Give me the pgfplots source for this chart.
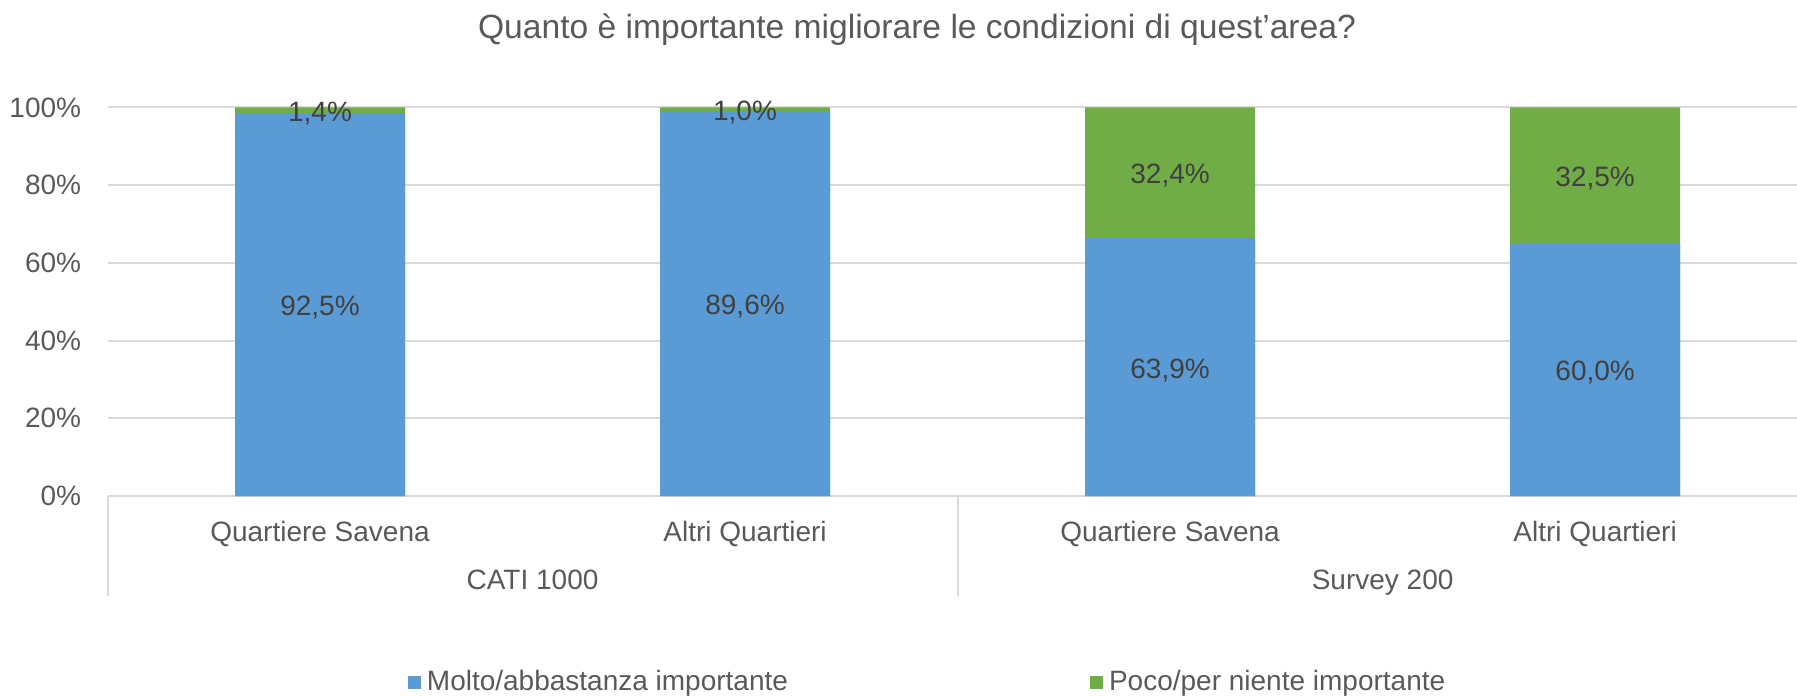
\documentclass[border=0pt]{standalone}
\usepackage{pgfplots}
\pgfplotsset{compat=1.18}
\usepackage{fontspec}
\setmainfont{Liberation Sans}
\definecolor{barblue}{HTML}{5B9BD5}
\definecolor{bargreen}{HTML}{70AD47}
\definecolor{txtgray}{HTML}{595959}
\definecolor{lblgray}{HTML}{404040}
\definecolor{gridgray}{HTML}{D9D9D9}
\begin{document}
\begin{tikzpicture}
\useasboundingbox (0,0) rectangle (898.5pt,348pt);
\node[text=txtgray, font=\fontsize{16.8}{20}\selectfont] at (458.5pt,333pt) {Quanto è importante migliorare le condizioni di quest’area?};
\begin{axis}[
  at={(53.75pt,100pt)}, anchor=south west,
  scale only axis, width=844.75pt, height=194.25pt,
  xmin=-0.5, xmax=3.475, ymin=0, ymax=100,
  clip=false,
  /pgf/number format/assume math mode=true,
  font=\fontsize{14}{16.8}\selectfont,
  axis lines*=left,
  x axis line style={draw=gridgray, line width=1pt},
  y axis line style={draw=none},
  major tick length=0pt,
  ytick={0,20,40,60,80,100},
  yticklabel={\pgfmathprintnumber{\tick}\%},
  yticklabel style={text=txtgray, anchor=east, inner sep=0pt, xshift=-13pt},
  xtick={0,1,2,3},
  xticklabels={Quartiere Savena, Altri Quartieri, Quartiere Savena, Altri Quartieri},
  xticklabel style={text=txtgray, anchor=base, inner sep=0pt, yshift=-22.5pt},
  ymajorgrids,
  major grid style={draw=gridgray, line width=1pt},
  legend style={at={(0.486,-0.479)}, anchor=center, draw=none, fill=none,
    legend columns=2, text=txtgray, font=\fontsize{14}{16.8}\selectfont,
    /tikz/every even column/.append style={column sep=149pt}},
  legend cell align=left,
  legend image code/.code={\fill[#1, draw=none] (0pt,-3.25pt) rectangle (6.5pt,3.25pt);},
]
\addlegendimage{fill=barblue}
\addlegendentry{\hspace{1pt}Molto/abbastanza importante}
\addlegendimage{fill=bargreen}
\addlegendentry{\hspace{1pt}Poco/per niente importante}
% green: remaining share to 100
\addplot[ybar, bar width=85pt, bar shift=0pt, fill=bargreen, draw=none, forget plot]
  coordinates {(0,100) (1,100) (2,100) (3,100)};
% blue: normalized share
\addplot[ybar, bar width=85pt, bar shift=0pt, fill=barblue, draw=none, forget plot]
  coordinates {(0,98.51) (1,98.90) (2,66.36) (3,64.86)};
% data labels (original percentages)
\addplot[draw=none, mark=none, forget plot, point meta=explicit,
  nodes near coords={\pgfmathprintnumber[fixed, fixed zerofill, precision=1, use comma]{\pgfplotspointmeta}\%},
  every node near coord/.append style={anchor=center, text=lblgray, yshift=-1.5pt, font=\fontsize{14}{16.8}\selectfont}]
  coordinates {(0,49.25) [92.5] (1,49.45) [89.6] (2,33.18) [63.9] (3,32.43) [60.0]
               (0,99.25) [1.4] (1,99.45) [1.0] (2,83.18) [32.4] (3,82.43) [32.5]};
\draw[gridgray, line width=1pt] (axis cs:-0.5,0) -- ([yshift=-50pt]axis cs:-0.5,0);
\draw[gridgray, line width=1pt] (axis cs:1.5,0) -- ([yshift=-50pt]axis cs:1.5,0);
\node[text=txtgray, anchor=base, inner sep=0pt] at ([yshift=-46.5pt]axis cs:0.5,0) {CATI 1000};
\node[text=txtgray, anchor=base, inner sep=0pt] at ([yshift=-46.5pt]axis cs:2.5,0) {Survey 200};
\end{axis}
\end{tikzpicture}
\end{document}
